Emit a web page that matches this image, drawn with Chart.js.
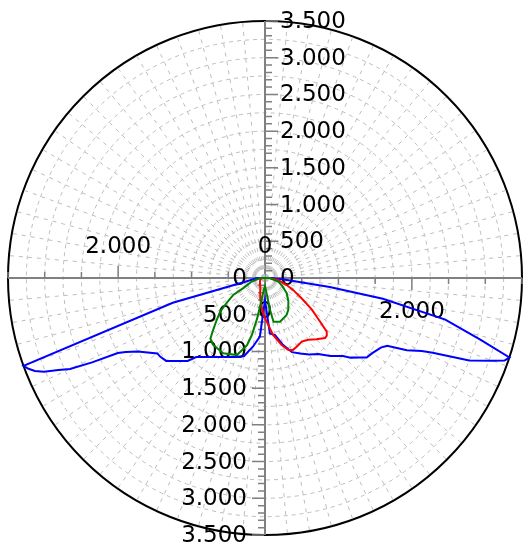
<!DOCTYPE html>
<html>
<head>
<meta charset="utf-8">
<script src="https://cdn.jsdelivr.net/npm/chart.js@4/dist/chart.umd.min.js"></script>
<style>
  html, body { margin: 0; padding: 0; background: #ffffff; }
  #wrap { width: 523px; height: 546px; position: relative; }
</style>
</head>
<body>
<div id="wrap"><canvas id="polar"></canvas></div>
<script>
// Luminous intensity curves. Angles are degrees from nadir:
// negative = left half-plane, positive = right half-plane.
const blueAngles = [-90, -85, -80, -75, -70, -69, -68, -67, -66, -65, -64, -63, -62, -60, -55, -53, -50, -45, -43, -41, -40, -35, -30, -25, -20, -15, -10, -5,
                    0, 5, 10, 15, 20, 25, 30, 35, 40, 45, 47, 50, 52, 55, 59, 61, 63, 65, 66, 68, 70, 71, 72, 74, 77, 80, 82, 85, 90];
const blueValues = [100, 150, 250, 1300, 3500, 3450, 3380, 3270, 3080, 2930, 2620, 2250, 2150, 2000, 1790, 1784, 1757, 1599, 1546, 1426, 1403, 1314, 1242, 1187, 1144, 1100, 950, 800,
                    300, 760, 790, 942, 1075, 1135, 1203, 1264, 1387, 1502, 1590, 1683, 1757, 1784, 1840, 1902, 2168, 2356, 2500, 3000, 3290, 3450, 3500, 3050, 2520, 1630, 890, 300, 100];

const redAngles = [-90, -70, -50, -35, -25, -18, -12, -7, -3, 0, 4, 8, 14, 18, 21, 25, 30, 35, 40, 45, 47, 49, 51, 53, 56, 61, 67, 72, 81, 90];
const redValues = [40, 70, 90, 117, 150, 215, 300, 390, 477, 545, 640, 784, 940, 1030, 1052, 1030, 1001, 1028, 1090, 1156, 1150, 1114, 990, 888, 771, 569, 415, 310, 179, 60];

const greenAngles = [-90, -75, -65, -62, -57, -53, -49, -45, -42, -38, -29, -20, -15, -13, -11, -9, -5, 0, 6, 9, 11, 19, 30, 36, 45, 55, 65, 75, 90];
const greenValues = [60, 188, 327, 490, 625, 766, 872, 998, 1111, 1152, 1172, 1117, 946, 797, 560, 300, 150, 110, 210, 441, 606, 629, 584, 539, 450, 361, 260, 188, 60];

// Radial axis
const rMax = 3500;
const gridStep = 250;
const minorStep = 100;
const radialTickValues = [0, 500, 1000, 1500, 2000, 2500, 3000, 3500];
const radialTickLabels = ['0', '500', '1.000', '1.500', '2.000', '2.500', '3.000', '3.500'];
const sideTickValues = [0, 2000];
const sideTickLabels = ['0', '2.000'];

// One category per degree, index counted clockwise from nadir
const angleLabels = Array.from({ length: 360 }, (_, i) => String(i));

function toRadar(angles, values) {
  const out = new Array(360).fill(null);
  angles.forEach((a, k) => { out[((-a) % 360 + 360) % 360] = values[k]; });
  return out;
}

const axisDecor = {
  id: 'axisDecor',
  beforeDatasetsDraw(chart) {
    const s = chart.scales.r;
    const ctx = chart.ctx;
    const cx = s.xCenter, cy = s.yCenter;
    ctx.save();
    ctx.strokeStyle = '#808080';
    ctx.lineWidth = 1.5;
    ctx.setLineDash([]);
    ctx.beginPath();
    for (let v = minorStep; v <= rMax; v += minorStep) {
      const d = s.getDistanceFromCenterForValue(v);
      const major = v % 500 === 0;
      ctx.moveTo(cx + 1, cy - d); ctx.lineTo(cx + (major ? 13 : 7), cy - d);
      ctx.moveTo(cx - 1, cy + d); ctx.lineTo(cx - (major ? 13 : 7), cy + d);
    }
    for (let v = 500; v <= rMax; v += 500) {
      const d = s.getDistanceFromCenterForValue(v);
      const labelled = sideTickValues.includes(v);
      ctx.moveTo(cx - d, cy); ctx.lineTo(cx - d, cy - (labelled ? 12 : 6));
      ctx.moveTo(cx + d, cy); ctx.lineTo(cx + d, cy + (labelled ? 12 : 6));
    }
    ctx.stroke();

    ctx.fillStyle = '#000000';
    ctx.font = '23px "DejaVu Sans"';
    ctx.textBaseline = 'middle';
    radialTickValues.forEach((v, i) => {
      const d = s.getDistanceFromCenterForValue(v);
      ctx.textAlign = 'left';
      ctx.fillText(radialTickLabels[i], cx + 15, cy - d + 1);
      ctx.textAlign = 'right';
      ctx.fillText(radialTickLabels[i], cx - 18, cy + d + 1);
    });
    ctx.textAlign = 'center';
    sideTickValues.forEach((v, i) => {
      const d = s.getDistanceFromCenterForValue(v);
      ctx.fillText(sideTickLabels[i], cx - d, cy - 31);
      ctx.fillText(sideTickLabels[i], cx + d, cy + 34);
    });
    ctx.restore();
  }
};

const lineStyle = { borderWidth: 2, pointRadius: 0, pointHoverRadius: 0, fill: false, spanGaps: true, tension: 0 };

new Chart(document.getElementById('polar'), {
  type: 'radar',
  data: {
    labels: angleLabels,
    datasets: [
      Object.assign({ label: 'C90-C270', data: toRadar(greenAngles, greenValues), borderColor: '#008000' }, lineStyle),
      Object.assign({ label: 'C0-C180 (asym.)', data: toRadar(redAngles, redValues), borderColor: '#ff0000' }, lineStyle),
      Object.assign({ label: 'C0-C180', data: toRadar(blueAngles, blueValues), borderColor: '#0000ff' }, lineStyle)
    ]
  },
  options: {
    responsive: true,
    maintainAspectRatio: false,
    animation: false,
    layout: { padding: { left: 8, right: 1, top: 21, bottom: 11 } },
    plugins: { legend: { display: false }, tooltip: { enabled: false } },
    scales: {
      r: {
        min: 0,
        max: rMax,
        startAngle: 180,
        ticks: { stepSize: gridStep, display: false },
        pointLabels: { display: false },
        grid: {
          circular: true,
          color: (c) => (c.tick && c.tick.value === rMax ? '#000000' : '#bdbdbd'),
          lineWidth: (c) => (c.tick && c.tick.value === rMax ? 2 : 1)
        },
        border: {
          dash: (c) => (c.tick && c.tick.value === rMax ? [] : [4, 4])
        },
        angleLines: {
          color: (c) => (c.index % 90 === 0 ? '#808080' : '#bdbdbd'),
          lineWidth: (c) => (c.index % 90 === 0 ? 2 : (c.index % 5 === 0 ? 1 : 0)),
          borderDash: (c) => (c.index % 90 === 0 ? [] : [4, 5])
        }
      }
    }
  },
  plugins: [axisDecor]
});
</script>
</body>
</html>
